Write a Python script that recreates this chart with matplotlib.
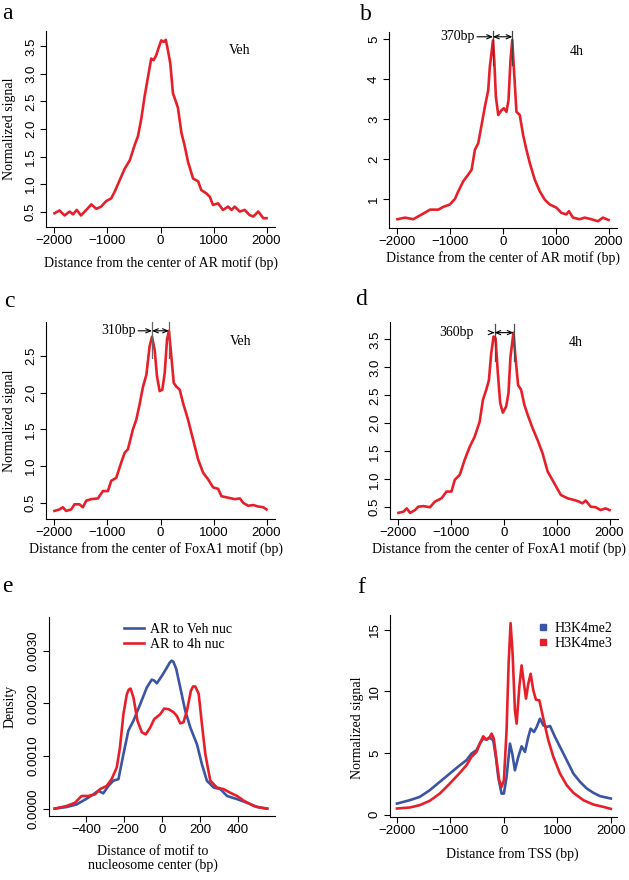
import numpy as np
import matplotlib
matplotlib.use("Agg")
import matplotlib.pyplot as plt
from matplotlib.lines import Line2D

plt.rcParams['font.family'] = ['Liberation Serif', 'DejaVu Serif']

RED = '#e6202a'
BLUE = '#3b54a4'

# ---- panel a: AR motif, Veh
a_x = [-2000, -1905, -1810, -1715, -1650, -1580, -1500, -1400, -1305, -1210, -1120, -1025,
       -930, -865, -770, -675, -580, -490, -425, -360, -300, -235, -175, -130, -80, -30,
       15, 60, 100, 140, 185, 235, 300, 330, 395, 455, 520, 615, 710, 770, 865, 930, 990,
       1085, 1180, 1275, 1340, 1400, 1495, 1590, 1675, 1750, 1845, 1940, 2000]
a_y = [0.47, 0.52, 0.43, 0.50, 0.45, 0.53, 0.43, 0.53, 0.63, 0.55, 0.59, 0.69,
       0.74, 0.86, 1.07, 1.28, 1.43, 1.70, 1.87, 2.20, 2.59, 2.95, 3.28, 3.25, 3.34, 3.49,
       3.61, 3.58, 3.62, 3.43, 3.19, 2.65, 2.47, 2.38, 1.93, 1.70, 1.40, 1.10, 1.05, 0.89,
       0.83, 0.77, 0.62, 0.65, 0.53, 0.59, 0.53, 0.59, 0.50, 0.53, 0.44, 0.41, 0.50, 0.38, 0.38]

# ---- panel b: AR motif, 4h
b_x = [-2000, -1855, -1700, -1540, -1380, -1225, -1130, -1005, -910, -847, -753, -658,
       -595, -532, -470, -406, -343, -280, -250, -190, -165, -135, -90, -28, 16, 66, 104,
       142, 175, 205, 255, 318, 381, 444, 507, 602, 696, 791, 885, 1011, 1106, 1200, 1250,
       1326, 1452, 1547, 1673, 1799, 1893, 2000]
b_y = [0.49, 0.53, 0.49, 0.61, 0.73, 0.73, 0.80, 0.86, 1.00, 1.19, 1.44, 1.61,
       1.73, 2.23, 2.39, 2.85, 3.31, 3.72, 4.30, 4.97, 4.47, 3.56, 3.10, 3.22, 3.27, 3.18,
       3.47, 4.47, 4.98, 4.30, 3.18, 3.10, 2.60, 2.23, 1.90, 1.48, 1.19, 0.98, 0.86, 0.78,
       0.65, 0.61, 0.69, 0.53, 0.49, 0.53, 0.49, 0.44, 0.53, 0.47]

# ---- panel c: FoxA1 motif, Veh
c_x = [-2000, -1905, -1843, -1780, -1685, -1622, -1528, -1465, -1400, -1307, -1181, -1087,
       -992, -929, -835, -740, -677, -614, -520, -457, -394, -330, -267, -205, -160, -110,
       -66, -16, 35, 80, 123, 160, 205, 250, 300, 362, 425, 520, 615, 710, 803, 898, 992,
       1087, 1150, 1276, 1402, 1497, 1560, 1654, 1749, 1843, 1938, 2000]
c_y = [0.39, 0.41, 0.44, 0.39, 0.41, 0.48, 0.48, 0.44, 0.53, 0.55, 0.56, 0.66,
       0.66, 0.80, 0.84, 1.05, 1.18, 1.23, 1.50, 1.63, 1.84, 2.08, 2.24, 2.63, 2.76, 2.58,
       2.22, 2.02, 2.04, 2.27, 2.72, 2.84, 2.49, 2.13, 2.08, 2.04, 1.86, 1.63, 1.36, 1.09,
       0.91, 0.82, 0.71, 0.69, 0.59, 0.57, 0.55, 0.56, 0.50, 0.46, 0.47, 0.45, 0.44, 0.41]

# ---- panel d: FoxA1 motif, 4h
d_x = [-2000, -1906, -1843, -1780, -1686, -1623, -1529, -1403, -1309, -1184, -1090, -996,
       -932, -838, -744, -650, -556, -461, -399, -336, -286, -242, -198, -160, -116, -72,
       -22, 41, 85, 123, 179, 217, 267, 324, 386, 449, 543, 637, 732, 826, 952, 1077, 1203,
       1328, 1423, 1485, 1548, 1642, 1737, 1831, 1925, 2000]
d_y = [0.40, 0.42, 0.48, 0.40, 0.45, 0.51, 0.52, 0.50, 0.60, 0.66, 0.78, 0.78,
       0.99, 1.08, 1.35, 1.58, 1.76, 2.03, 2.42, 2.60, 2.77, 3.25, 3.55, 3.52, 2.89, 2.36,
       2.19, 2.30, 2.54, 3.19, 3.62, 3.19, 2.68, 2.60, 2.33, 2.15, 1.91, 1.70, 1.46, 1.14,
       0.93, 0.72, 0.66, 0.63, 0.60, 0.57, 0.62, 0.51, 0.50, 0.45, 0.48, 0.45]

# ---- panel e: motif to nucleosome center density
e_veh_x = [-564, -502, -449, -400, -361, -335, -309, -282, -256, -229, -203, -177, -150,
           -115, -80, -54, -40, -27, -1, 26, 40, 50, 60, 75, 96, 122, 149, 184, 210, 236,
           272, 307, 342, 395, 448, 500, 553]
e_veh_y = [0.0, 0.00003, 0.00008, 0.00018, 0.00027, 0.00034, 0.00029, 0.00043, 0.00053,
           0.00056, 0.00103, 0.00148, 0.00167, 0.00198, 0.00230, 0.00245, 0.00243, 0.00238,
           0.00252, 0.00268, 0.00277, 0.00281, 0.00279, 0.00265, 0.00230, 0.00186, 0.00154,
           0.00122, 0.00084, 0.00053, 0.00040, 0.00037, 0.00024, 0.00018, 0.00011, 0.00003, 0.0]
e_4h_x = [-564, -502, -458, -423, -388, -353, -326, -291, -265, -238, -221, -203, -185,
          -175, -165, -150, -129, -106, -85, -62, -41, -10, 11, 34, 61, 78, 96, 113, 131, 152,
          163, 175, 193, 210, 228, 254, 289, 324, 360, 395, 430, 483, 518, 553]
e_4h_y = [0.0, 0.00005, 0.00011, 0.00024, 0.00024, 0.00027, 0.00037, 0.00043, 0.00056,
          0.00078, 0.00116, 0.00179, 0.00217, 0.00226, 0.00228, 0.00211, 0.00167, 0.00145,
          0.00141, 0.00154, 0.00170, 0.00179, 0.00190, 0.00189, 0.00183, 0.00176, 0.00162,
          0.00164, 0.00186, 0.00224, 0.00232, 0.00232, 0.00218, 0.00160, 0.00103, 0.00053,
          0.00040, 0.00037, 0.00030, 0.00024, 0.00015, 0.00005, 0.00002, 0.0]

# ---- panel f: H3K4me2 / H3K4me3 around TSS
f_me2_x = [-2000, -1763, -1575, -1388, -1200, -1013, -825, -700, -606, -513, -450, -388,
           -325, -263, -200, -150, -106, -44, 0, 50, 113, 156, 206, 269, 331, 394, 456, 500,
           563, 613, 675, 738, 800, 863, 956, 1050, 1175, 1300, 1425, 1550, 1675, 1800, 2000]
f_me2_y = [0.89, 1.16, 1.43, 1.97, 2.65, 3.32, 4.00, 4.41, 4.95, 5.22, 5.76, 6.16,
           6.08, 6.24, 6.03, 4.68, 3.05, 1.70, 1.70, 3.05, 5.76, 4.95, 3.59, 4.68, 5.54, 5.08,
           6.30, 6.97, 6.70, 7.11, 7.78, 7.24, 7.11, 7.19, 6.30, 5.49, 4.41, 3.32, 2.65, 2.11,
           1.76, 1.49, 1.30]
f_me3_x = [-2000, -1763, -1575, -1388, -1200, -1013, -825, -700, -606, -513, -450, -388,
           -325, -263, -231, -188, -138, -88, -44, 0, 50, 88, 125, 163, 206, 238, 288, 331,
           375, 413, 456, 500, 550, 600, 663, 738, 831, 925, 1050, 1175, 1300, 1488, 1675,
           1863, 2000]
f_me3_y = [0.49, 0.57, 0.76, 1.11, 1.70, 2.51, 3.38, 4.00, 4.68, 5.08, 5.76, 6.35,
           6.08, 6.30, 6.57, 6.16, 4.41, 2.78, 2.24, 2.78, 6.84, 12.24, 15.54, 13.05, 8.46,
           7.38, 10.35, 12.11, 10.62, 9.41, 10.62, 11.43, 10.08, 9.32, 9.27, 7.78, 6.03, 4.68,
           3.32, 2.38, 1.76, 1.16, 0.81, 0.62, 0.46]

W, H = 629, 880
fig = plt.figure(figsize=(W / 100, H / 100), dpi=100)


def add_axes(l, t, r, b):
    return fig.add_axes([l / W, 1 - b / H, (r - l) / W, (b - t) / H])


def style(ax, xlim, ylim, xticks, yticks, yfmt):
    ax.set_xlim(*xlim)
    ax.set_ylim(*ylim)
    ax.spines['top'].set_visible(False)
    ax.spines['right'].set_visible(False)
    for s in ('left', 'bottom'):
        ax.spines[s].set_linewidth(0.8)
    ax.set_xticks(xticks)
    ax.set_xticklabels(['%d' % v if v >= 0 else '\u2212%d' % -v for v in xticks])
    ax.set_yticks(yticks)
    ax.set_yticklabels([yfmt % v for v in yticks], rotation=90, va='center')
    ax.tick_params(direction='out', length=4, width=0.8, labelsize=9.5)
    ax.tick_params(axis='x', pad=1.5)
    ax.tick_params(axis='y', pad=2.5)
    for lab in ax.get_xticklabels() + ax.get_yticklabels():
        lab.set_fontfamily('Liberation Sans')


xt = [-2000, -1000, 0, 1000, 2000]
lim4k = (-2160, 2160)
arrow2 = dict(arrowstyle='<->,head_length=0.35,head_width=0.15', lw=0.8, color='black',
              shrinkA=0, shrinkB=0)
arrow1 = dict(arrowstyle='->,head_length=0.35,head_width=0.15', lw=0.8, color='black',
              shrinkA=12, shrinkB=0)

# a
ax = add_axes(46, 31, 275, 227)
ax.plot(a_x, a_y, color=RED, lw=1.9)
style(ax, lim4k, (0.22, 3.78), xt, [0.5, 1.0, 1.5, 2.0, 2.5, 3.0, 3.5], '%.1f')
ax.set_xlabel('Distance from the center of AR motif (bp)', fontsize=10)
ax.xaxis.set_label_coords(0.5, -0.15)
ax.set_ylabel('Normalized signal', fontsize=10)
ax.yaxis.set_label_coords(-0.13, 0.5)
ax.text(1490, 3.43, 'Veh', fontsize=10, ha='center', va='center')

# b
ax = add_axes(389, 32, 617, 228)
ax.plot(b_x, b_y, color=RED, lw=1.9)
style(ax, lim4k, (0.27, 5.18), xt, [1, 2, 3, 4, 5], '%d')
ax.set_xlabel('Distance from the center of AR motif (bp)', fontsize=10)
ax.xaxis.set_label_coords(0.5, -0.12)
ax.text(1400, 4.68, '4h', fontsize=10, ha='center', va='center')
b_peaks = [-190, 178]
for p in b_peaks:
    ax.plot([p, p], [4.35, 5.2], color='0.25', lw=0.9, clip_on=False)
ax.annotate('', xy=(b_peaks[1], 5.06), xytext=(b_peaks[0], 5.06), arrowprops=arrow2)
ax.annotate('370bp', xy=(b_peaks[0], 5.06), xytext=(-870, 5.06), fontsize=10,
            ha='center', va='center', arrowprops=arrow1)

# c
ax = add_axes(46, 322, 275, 519)
ax.plot(c_x, c_y, color=RED, lw=1.9)
style(ax, lim4k, (0.28, 2.96), xt, [0.5, 1.0, 1.5, 2.0, 2.5], '%.1f')
ax.set_xlabel('Distance from the center of FoxA1 motif (bp)', fontsize=10)
ax.xaxis.set_label_coords(0.48, -0.115)
ax.set_ylabel('Normalized signal', fontsize=10)
ax.yaxis.set_label_coords(-0.13, 0.5)
ax.text(1510, 2.69, 'Veh', fontsize=10, ha='center', va='center')
c_peaks = [-160, 158]
for p in c_peaks:
    ax.plot([p, p], [2.47, 2.96], color='0.4', lw=0.9, clip_on=False)
ax.annotate('', xy=(c_peaks[1], 2.84), xytext=(c_peaks[0], 2.84), arrowprops=arrow2)
ax.annotate('310bp', xy=(c_peaks[0], 2.84), xytext=(-800, 2.84), fontsize=10,
            ha='center', va='center', arrowprops=arrow1)

# d
ax = add_axes(390, 322, 618, 519)
ax.plot(d_x, d_y, color=RED, lw=1.9)
style(ax, lim4k, (0.29, 3.81), xt, [0.5, 1.0, 1.5, 2.0, 2.5, 3.0, 3.5], '%.1f')
ax.set_xlabel('Distance from the center of FoxA1 motif (bp)', fontsize=10)
ax.xaxis.set_label_coords(0.476, -0.115)
ax.text(1360, 3.45, '4h', fontsize=10, ha='center', va='center')
d_peaks = [-180, 180]
for p in d_peaks:
    ax.plot([p, p], [3.12, 3.77], color='0.3', lw=0.9, clip_on=False)
ax.annotate('', xy=(d_peaks[1], 3.62), xytext=(d_peaks[0], 3.62), arrowprops=arrow2)
ax.annotate('360bp', xy=(d_peaks[0], 3.62), xytext=(-895, 3.62), fontsize=10,
            ha='center', va='center', arrowprops=arrow1)

# e
ax = add_axes(49, 617, 275, 816)
ax.plot(e_veh_x, e_veh_y, color=BLUE, lw=1.9, label='AR to Veh nuc')
ax.plot(e_4h_x, e_4h_y, color=RED, lw=1.9, label='AR to 4h nuc')
style(ax, (-594, 594), (-0.00014, 0.00364), [-400, -200, 0, 200, 400],
      [0.0, 0.001, 0.002, 0.003], '%.4f')
ax.set_xlabel('Distance of motif to\nnucleosome center (bp)', fontsize=10, linespacing=1.1)
ax.xaxis.set_label_coords(0.46, -0.145)
ax.set_ylabel('Density', fontsize=10)
ax.yaxis.set_label_coords(-0.145, 0.55)
ax.legend(loc='upper left', bbox_to_anchor=(0.33, 0.97), frameon=False, fontsize=10,
          handlelength=1.5, handletextpad=0.4, labelspacing=0.15, borderpad=0, borderaxespad=0)

# f
ax = add_axes(390, 615, 617, 817)
ax.plot(f_me2_x, f_me2_y, color=BLUE, lw=1.9)
ax.plot(f_me3_x, f_me3_y, color=RED, lw=1.9)
style(ax, (-2130, 2115), (-0.2, 16.2), xt, [0, 5, 10, 15], '%d')
ax.set_xlabel('Distance from TSS (bp)', fontsize=10)
ax.xaxis.set_label_coords(0.537, -0.15)
ax.set_ylabel('Normalized signal', fontsize=10)
ax.yaxis.set_label_coords(-0.115, 0.44)
handles = [Line2D([], [], color=BLUE, marker='s', ls='none', markersize=5),
           Line2D([], [], color=RED, marker='s', ls='none', markersize=5)]
ax.legend(handles, ['H3K4me2', 'H3K4me3'], loc='upper left', bbox_to_anchor=(0.65, 0.965),
          frameon=False, fontsize=10, handlelength=0.8, handletextpad=0.4,
          labelspacing=0.15, borderpad=0, borderaxespad=0)

# panel letters
for letter, x, y in [('a', 2, 19), ('b', 360, 20), ('c', 4, 307), ('d', 355, 305),
                     ('e', 2, 592), ('f', 357, 593)]:
    fig.text(x / W, 1 - y / H, letter, fontsize=17, ha='left', va='baseline')

fig.savefig('out.png', dpi=100)
